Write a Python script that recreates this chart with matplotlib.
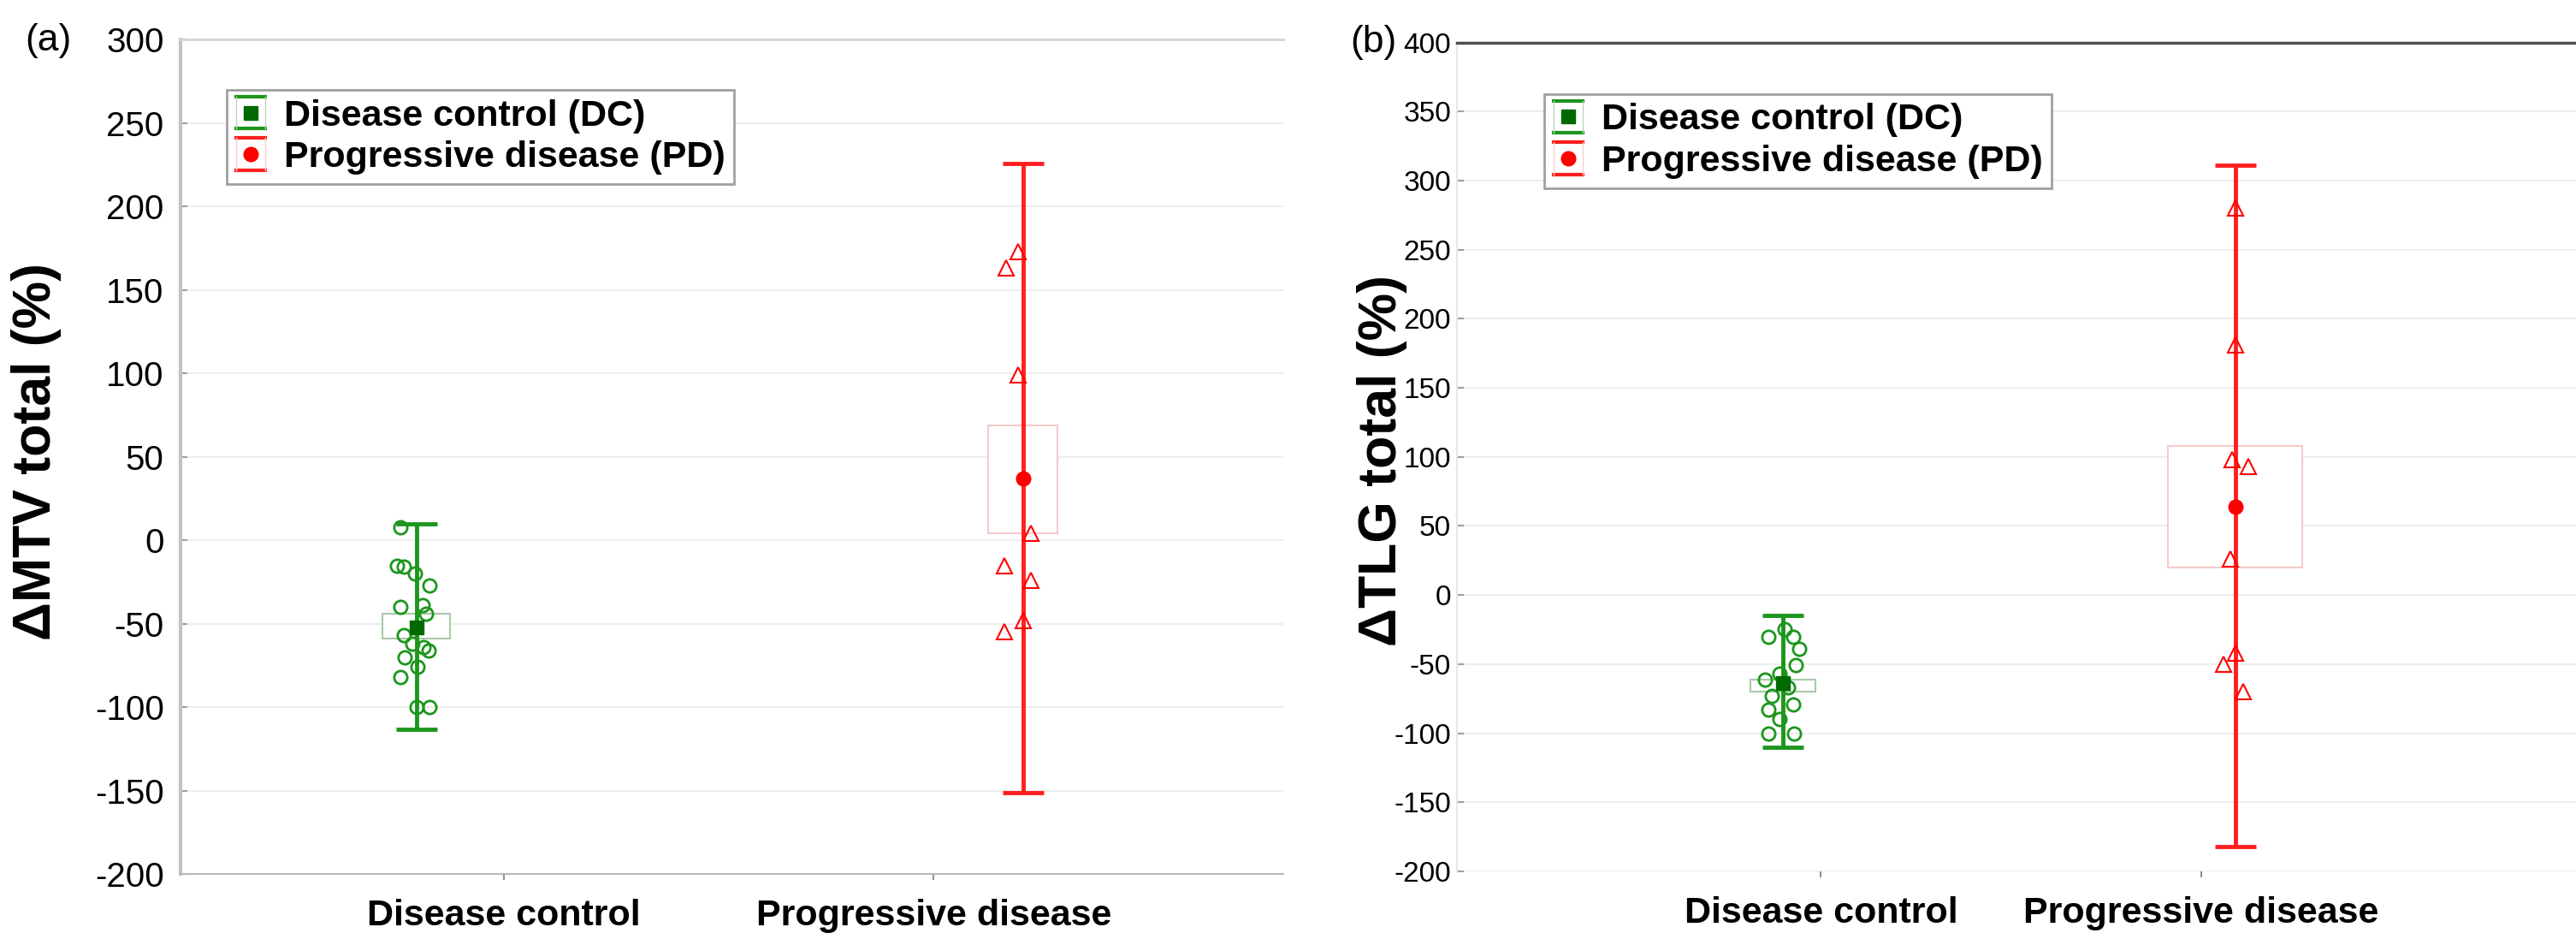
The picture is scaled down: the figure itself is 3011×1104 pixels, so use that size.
import matplotlib
matplotlib.use('Agg')
import matplotlib.pyplot as plt
from matplotlib.patches import Rectangle
from matplotlib.lines import Line2D
from matplotlib.legend_handler import HandlerBase
from matplotlib import font_manager

plt.rcParams['font.family'] = ['Liberation Sans', 'DejaVu Sans']
_names = {f.name for f in font_manager.fontManager.ttflist}
if 'Liberation Sans Narrow' in _names:
    NARROW, NARROW_SIZE = ['Liberation Sans Narrow', 'Liberation Sans'], 27
else:
    NARROW, NARROW_SIZE = ['Liberation Sans', 'DejaVu Sans'], 24

categories = ['Disease control', 'Progressive disease']
legend_labels = ['Disease control (DC)', 'Progressive disease (PD)']

# Panel (a): delta MTV total (%)
mtv_dc = [8, -15, -16, -20, -27, -40, -39, -44, -57, -62, -64, -66, -70, -76, -82, -100, -100]
mtv_pd = [173, 163, 99, 4, -15, -24, -48, -55]
mtv_dc_mean, mtv_dc_box, mtv_dc_whisk = -52, (-59, -44), (-113, 10)
mtv_pd_mean, mtv_pd_box, mtv_pd_whisk = 37, (4, 69), (-151, 226)

# Panel (b): delta TLG total (%)
tlg_dc = [-25, -30, -30, -39, -51, -57, -61, -67, -73, -79, -83, -90, -100, -100]
tlg_pd = [280, 181, 98, 93, 26, -42, -50, -70]
tlg_dc_mean, tlg_dc_box, tlg_dc_whisk = -64, (-70, -61), (-110, -15)
tlg_pd_mean, tlg_pd_box, tlg_pd_whisk = 64, (20, 108), (-182, 311)

# layout-only: horizontal jitter of individual points
jit_a_dc = [-0.038, -0.044, -0.030, -0.004, 0.030, -0.038, 0.014, 0.022, -0.030,
            -0.010, 0.016, 0.028, -0.028, 0.002, -0.038, 0.0, 0.030]
jit_a_pd = [-0.011, -0.038, -0.011, 0.019, -0.042, 0.019, 0.0, -0.042]
jit_b_dc = [0.004, -0.039, 0.026, 0.043, 0.034, -0.009, -0.047, 0.013, -0.030,
            0.026, -0.039, -0.009, -0.039, 0.030]
jit_b_pd = [0.0, 0.0, -0.009, 0.034, -0.013, 0.0, -0.030, 0.022]

GREEN = '#1c961c'
GREEN_D = '#006a00'
RED = '#ff1e1e'


class BracketHandler(HandlerBase):
    def __init__(self, color, edge, marker, mcolor, ms):
        super().__init__()
        self.color, self.edge, self.marker, self.mcolor, self.ms = color, edge, marker, mcolor, ms

    def create_artists(self, legend, orig_handle, xdescent, ydescent, width, height, fontsize, trans):
        x0 = -xdescent
        x1 = x0 + width
        y0 = -ydescent - 0.12 * height
        y1 = -ydescent + 1.12 * height
        cx = (x0 + x1) / 2
        cy = -ydescent + height / 2
        arts = [Line2D([x0, x1], [y1, y1], color=self.color, lw=3),
                Line2D([x0, x1], [y0, y0], color=self.color, lw=3),
                Line2D([x0, x0], [y0, y1], color=self.edge, lw=1),
                Line2D([x1, x1], [y0, y1], color=self.edge, lw=1),
                Line2D([cx], [cy], marker=self.marker, color=self.mcolor, ms=self.ms, ls='none')]
        for a in arts:
            a.set_transform(trans)
        return arts


def draw_group(ax, xc, vals, jit, mean, box, whisk, halfw, kind):
    if kind == 'dc':
        ecol, bcol, mk, mcol = GREEN, '#a9c9a9', 's', GREEN_D
    else:
        ecol, bcol, mk, mcol = RED, '#f6caca', 'o', '#ff0000'
    ax.add_patch(Rectangle((xc - halfw, box[0]), 2 * halfw, box[1] - box[0],
                           facecolor='white', edgecolor=bcol, lw=1.5, zorder=2))
    ax.errorbar([xc], [mean], yerr=[[mean - whisk[0]], [whisk[1] - mean]], fmt='none',
                ecolor=ecol, elinewidth=3.5, capsize=17, capthick=3.5, zorder=3)
    xs = [xc + j for j in jit]
    if kind == 'dc':
        ax.plot(xs, vals, 'o', mfc='none', mec=GREEN, ms=11, mew=2, zorder=4)
    else:
        ax.plot(xs, vals, '^', mfc='none', mec='#ff0000', ms=13, mew=1.5, zorder=4)
    ax.plot([xc], [mean], mk, color=mcol, ms=12, zorder=5)


def style_axes(ax, ylim, yticks, xlim, tick_family, tick_size, tick_pad):
    ax.set_ylim(*ylim)
    ax.set_xlim(*xlim)
    ax.set_yticks(yticks)
    ax.set_yticklabels([str(t) for t in yticks], family=tick_family, fontsize=tick_size)
    ax.set_xticks([0, 1])
    ax.set_xticklabels(categories, fontweight='bold', fontsize=31)
    ax.set_axisbelow(True)
    ax.yaxis.grid(True, color='#ededed', lw=1.5)
    ax.tick_params(axis='y', direction='in', length=6, width=1.5, color='#a0a0a0', pad=tick_pad)
    ax.tick_params(axis='x', direction='out', length=5, width=1.5, color='#909090', pad=16)


fig = plt.figure(figsize=(30.11, 11.04), dpi=100)

# ---- panel (a)
axa = fig.add_axes([0.0701, 0.075, 0.428, 0.883])
style_axes(axa, (-200, 300), list(range(-200, 301, 50)), (-0.751, 1.812),
           ['Liberation Sans', 'DejaVu Sans'], 29, 14)
draw_group(axa, -0.203, mtv_dc, jit_a_dc, mtv_dc_mean, mtv_dc_box, mtv_dc_whisk, 0.079, 'dc')
draw_group(axa, 1.207, mtv_pd, jit_a_pd, mtv_pd_mean, mtv_pd_box, mtv_pd_whisk, 0.081, 'pd')
axa.spines['left'].set_color('#c4c4c4')
axa.spines['left'].set_linewidth(3)
axa.spines['top'].set_color('#d4d4d4')
axa.spines['top'].set_linewidth(2)
axa.spines['right'].set_visible(False)
axa.spines['bottom'].set_color('#b8b8b8')
axa.spines['bottom'].set_linewidth(1.5)
axa.set_ylabel('ΔMTV total (%)', fontsize=45, fontweight='bold')
axa.yaxis.label.set_verticalalignment('center')
axa.yaxis.set_label_coords((42 - 211) / 1289, 0.506)

# ---- panel (b)
bl = 1703 / 3011
axb = fig.add_axes([bl, 0.078, 1 - bl, 0.877])
style_axes(axb, (-200, 400), list(range(-200, 401, 50)), (-0.978 + 0.02, 1.987),
           NARROW, NARROW_SIZE, 5)
draw_group(axb, -0.10, tlg_dc, jit_b_dc, tlg_dc_mean, tlg_dc_box, tlg_dc_whisk, 0.086, 'dc')
draw_group(axb, 1.09, tlg_pd, jit_b_pd, tlg_pd_mean, tlg_pd_box, tlg_pd_whisk, 0.177, 'pd')
axb.spines['top'].set_color('#505050')
axb.spines['top'].set_linewidth(2.5)
axb.spines['left'].set_color('#e8e8e8')
axb.spines['left'].set_linewidth(1.5)
axb.spines['right'].set_visible(False)
axb.spines['bottom'].set_visible(False)
axb.set_ylabel('ΔTLG total (%)', fontsize=45, fontweight='bold')
axb.yaxis.label.set_verticalalignment('center')
axb.yaxis.set_label_coords((1615 - 1703) / (3011 - 1703), 0.496)

# ---- legends
for ax, anchor in ((axa, (0.042, 0.94)), (axb, (0.078, 0.938))):
    h1 = Line2D([], [])
    h2 = Line2D([], [])
    leg = ax.legend([h1, h2], legend_labels, loc='upper left', bbox_to_anchor=anchor,
                    borderaxespad=0, fancybox=False, framealpha=1, edgecolor='#a0a0a0',
                    prop={'weight': 'bold', 'size': 31}, handlelength=0.8,
                    handletextpad=0.5, borderpad=0.25, labelspacing=0.2,
                    handler_map={h1: BracketHandler(GREEN, '#b8d8b8', 's', GREEN_D, 12),
                                 h2: BracketHandler(RED, '#f8d0d0', 'o', '#ff0000', 12)})
    leg.get_frame().set_linewidth(2)

fig.text(29 / 3011, 1 - 48 / 1104, '(a)', fontsize=32, va='center', ha='left')
fig.text(1578 / 3011, 1 - 50 / 1104, '(b)', fontsize=32, va='center', ha='left')

fig.savefig('out.png', dpi=100)
